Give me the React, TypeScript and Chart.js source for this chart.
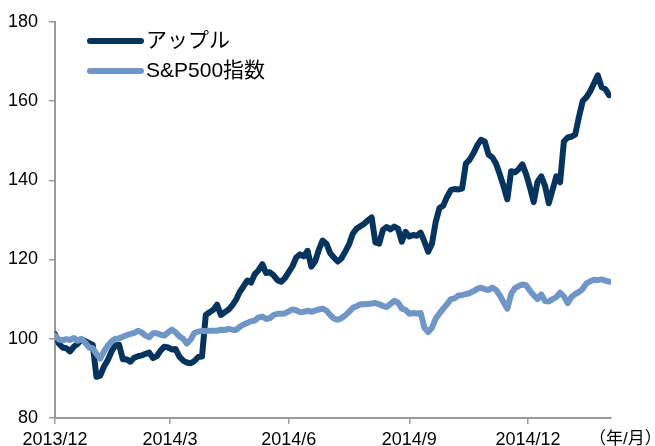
import React, { useEffect, useRef } from "react";
import { Chart, registerables } from "chart.js";

Chart.register(...registerables);

// ---- data ----
const DAY_STEP = 2; // trading days between samples
const X_MAX = 295; // last trading day shown
const TICK_DAYS = [0, 61, 124, 188, 251];
const TICK_LABELS = ["2013/12", "2014/3", "2014/6", "2014/9", "2014/12"];
const UNIT_LABEL = "（年/月）";
const SERIES_NAMES = ["アップル", "S&P500指数"];
const Y_MIN = 80;
const Y_MAX = 180;
const Y_STEP = 20;

const APPLE = [
  101.2, 98.8, 97.8, 97.6, 96.8, 98.0, 98.7, 99.8, 99.4, 98.9,
  98.5, 90.4, 90.7, 93.0, 94.6, 96.8, 98.3, 98.5, 94.8, 94.8,
  94.2, 95.2, 95.6, 95.8, 96.2, 96.5, 95.1, 95.6, 97.0, 98.0,
  97.8, 97.3, 97.4, 95.5, 94.5, 94.0, 93.8, 94.4, 95.4, 95.5,
  106.0, 106.7, 107.3, 108.6, 106.0, 106.7, 107.3, 108.4, 109.8, 111.8,
  113.2, 114.7, 114.2, 116.3, 117.3, 118.8, 116.6, 116.8, 116.0, 114.8,
  114.4, 115.3, 116.8, 118.3, 120.5, 121.3, 120.8, 122.2, 118.2, 119.5,
  122.5, 124.8, 124.0, 121.6, 120.5, 119.5, 120.3, 122.0, 123.8, 126.5,
  127.8, 128.4, 129.0, 129.9, 130.6, 124.3, 124.0, 127.5, 128.2, 127.6,
  128.3, 127.8, 124.5, 127.0, 125.8, 126.2, 126.0, 126.8, 124.5, 122.0,
  124.0, 129.5, 133.0, 133.6, 135.8, 137.5, 137.8, 137.7, 137.9, 144.2,
  145.2, 146.8, 148.8, 150.2, 149.8, 146.5, 145.8, 144.2, 141.5, 138.5,
  135.2, 142.3, 142.0, 142.8, 144.0, 141.5, 138.2, 134.5, 139.6, 141.0,
  138.6, 134.2, 137.6, 141.0, 139.5, 149.8, 150.8, 151.0, 151.5, 156.0,
  160.0, 161.0, 162.5, 164.5, 166.5, 163.5, 163.0, 161.5,
];

const SP500 = [
  100.8, 99.8, 99.6, 99.9, 99.7, 100.2, 99.5, 100.0, 99.0, 97.8,
  97.6, 96.2, 95.0, 96.8, 98.3, 99.3, 100.0, 100.1, 100.5, 100.9,
  101.2, 101.5, 102.0, 101.6, 100.8, 100.4, 101.4, 101.4, 101.0, 100.8,
  101.6, 102.3, 101.6, 100.6, 100.0, 98.8, 99.8, 101.5, 101.8, 102.0,
  101.9, 102.0, 102.0, 102.0, 102.3, 102.2, 102.5, 102.3, 102.2, 103.0,
  103.6, 104.0, 104.4, 104.6, 105.4, 105.6, 105.0, 105.2, 106.0, 106.3,
  106.3, 106.4, 106.9, 107.4, 107.2, 106.7, 106.8, 107.1, 106.8, 107.1,
  107.4, 107.6, 107.1, 106.0, 105.1, 104.8, 105.2, 105.9, 106.8, 107.8,
  108.2, 108.7, 108.7, 108.8, 108.9, 109.0, 108.7, 108.3, 108.0, 108.8,
  109.6, 109.1, 107.6, 107.3, 106.3, 106.5, 106.4, 106.5, 102.8, 101.7,
  102.8, 105.1, 106.4, 107.6, 108.7, 110.0, 110.2, 110.9, 111.0, 111.3,
  111.5, 112.0, 112.6, 112.9, 112.5, 112.3, 112.9, 112.3, 111.0, 109.2,
  107.6, 111.3, 112.8, 113.3, 113.7, 113.5, 112.1, 111.0, 110.0, 111.2,
  109.5, 109.4, 110.0, 110.5, 111.6, 110.7, 109.0, 110.5, 111.3, 111.8,
  112.6, 114.0, 114.5, 114.9, 114.8, 115.0, 114.7, 114.4,
];

// ---- styles ----
const FONT = '"Liberation Sans", Arial, "Noto Sans CJK JP", sans-serif';
const APPLE_COLOR = "#07345e";
const SP_COLOR = "#7096c7";
const AXIS_COLOR = "#9a9a9a";
const LINE_W = 6;

const toPoints = (arr: number[]) => arr.map((v, i) => ({ x: i * DAY_STEP, y: v }));

const insideLegend = {
  id: "insideLegend",
  afterDraw(chart: any) {
    const ctx = chart.ctx as CanvasRenderingContext2D;
    ctx.save();
    const items = [
      { label: SERIES_NAMES[0], color: APPLE_COLOR, y: 41 },
      { label: SERIES_NAMES[1], color: SP_COLOR, y: 71 },
    ];
    items.forEach((it) => {
      ctx.strokeStyle = it.color;
      ctx.lineWidth = LINE_W;
      ctx.lineCap = "round";
      ctx.beginPath();
      ctx.moveTo(90, it.y);
      ctx.lineTo(141, it.y);
      ctx.stroke();
      ctx.fillStyle = "#000";
      ctx.font = `21px ${FONT}`;
      ctx.textBaseline = "middle";
      ctx.textAlign = "left";
      ctx.fillText(it.label, 146, it.y);
    });
    const xs = chart.scales.x;
    ctx.font = `17px ${FONT}`;
    ctx.textBaseline = "alphabetic";
    ctx.fillText(UNIT_LABEL, xs.right - 22, 444);
    ctx.restore();
  },
};

export default function App() {
  const ref = useRef<HTMLCanvasElement | null>(null);

  useEffect(() => {
    if (!ref.current) return;
    const chart = new Chart(ref.current, {
      type: "line",
      data: {
        datasets: [
          {
            label: SERIES_NAMES[0],
            data: toPoints(APPLE),
            borderColor: APPLE_COLOR,
            borderWidth: LINE_W,
            pointRadius: 0,
            borderJoinStyle: "round",
            borderCapStyle: "round",
            tension: 0,
            order: 1,
          },
          {
            label: SERIES_NAMES[1],
            data: toPoints(SP500),
            borderColor: SP_COLOR,
            borderWidth: LINE_W,
            pointRadius: 0,
            borderJoinStyle: "round",
            borderCapStyle: "round",
            tension: 0,
            order: 0,
          },
        ],
      },
      options: {
        animation: false,
        responsive: false,
        layout: { padding: { top: 20, right: 44, left: 0, bottom: 0 } },
        plugins: { legend: { display: false }, tooltip: { enabled: false } },
        scales: {
          x: {
            type: "linear",
            min: 0,
            max: X_MAX,
            afterBuildTicks: (s: any) => {
              s.ticks = TICK_DAYS.map((v) => ({ value: v }));
            },
            afterFit: (s: any) => {
              s.height = 28;
            },
            ticks: {
              autoSkip: false,
              maxRotation: 0,
              padding: 5,
              color: "#000",
              font: { family: FONT, size: 18 },
              callback: (v: any) => {
                const k = TICK_DAYS.indexOf(Number(v));
                return k >= 0 ? TICK_LABELS[k] : "";
              },
            },
            grid: { drawOnChartArea: false, tickLength: 6, color: AXIS_COLOR, lineWidth: 1.5 },
            border: { color: AXIS_COLOR, width: 2 },
          },
          y: {
            min: Y_MIN,
            max: Y_MAX,
            afterFit: (s: any) => {
              s.width = 55;
            },
            ticks: {
              stepSize: Y_STEP,
              padding: 11,
              color: "#000",
              font: { family: FONT, size: 18 },
            },
            grid: { drawOnChartArea: false, tickLength: 6, color: AXIS_COLOR, lineWidth: 1.5 },
            border: { color: AXIS_COLOR, width: 2 },
          },
        },
      },
      plugins: [insideLegend],
    });
    return () => chart.destroy();
  }, []);

  return (
    <div style={{ position: "fixed", left: 0, top: 0, width: 655, height: 446, background: "#fff" }}>
      <canvas ref={ref} width={655} height={446} />
    </div>
  );
}
